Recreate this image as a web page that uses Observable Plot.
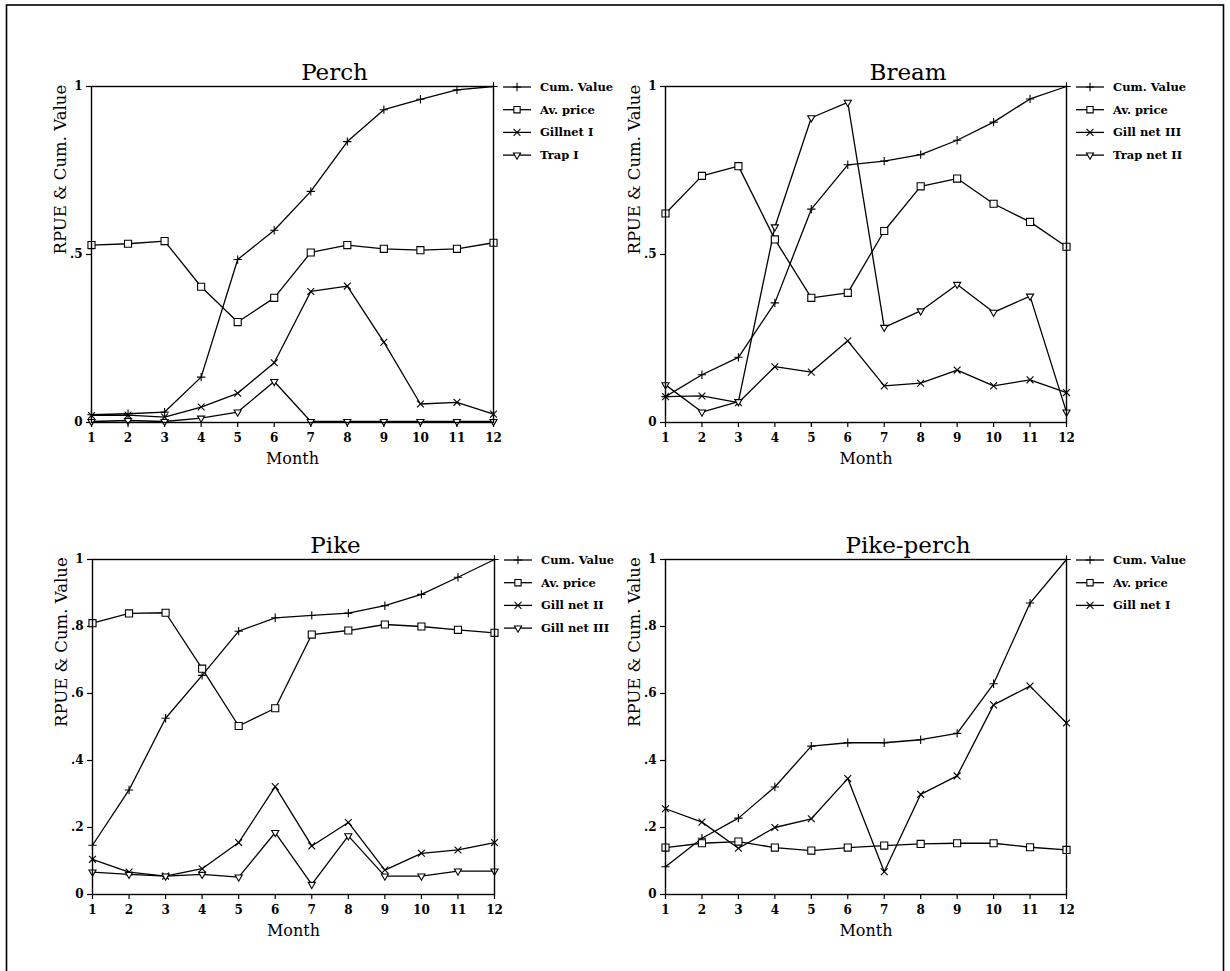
<!DOCTYPE html>
<html><head><meta charset="utf-8">
<script src="https://cdn.jsdelivr.net/npm/d3@7"></script>
<script src="https://cdn.jsdelivr.net/npm/@observablehq/plot@0.6"></script>
<style>
body{margin:0;background:#fff;}
#page{position:relative;width:1230px;height:971px;overflow:hidden;background:#fff;}
#page > svg{position:absolute;}
</style></head><body><div id="page"></div>
<script>
// ---------- data ----------
const months = [1,2,3,4,5,6,7,8,9,10,11,12];
const monthTicks = [1,2,3,4,5,6,7,8,9,10,11,12];
const yTicksTop = [0, 0.5, 1];
const yTicksBottom = [0, 0.2, 0.4, 0.6, 0.8, 1];

const titles = ["Perch", "Bream", "Pike", "Pike-perch"];
const xLabel = "Month";
const yLabel = "RPUE & Cum. Value";

const perchSeries = ["Cum. Value", "Av. price", "Gillnet I", "Trap I"];
const perchCum   = [0.023,0.026,0.031,0.135,0.485,0.572,0.688,0.836,0.931,0.962,0.990,1.000];
const perchPrice = [0.528,0.532,0.540,0.404,0.299,0.371,0.506,0.528,0.517,0.513,0.517,0.535];
const perchGill  = [0.021,0.022,0.016,0.046,0.087,0.178,0.390,0.406,0.239,0.055,0.060,0.025];
const perchTrap  = [0.003,0.006,0.003,0.013,0.031,0.122,0.003,0.003,0.003,0.003,0.003,0.003];

const breamSeries = ["Cum. Value", "Av. price", "Gill net III", "Trap net II"];
const breamCum   = [0.077,0.142,0.194,0.356,0.635,0.767,0.778,0.797,0.840,0.894,0.963,1.000];
const breamPrice = [0.622,0.734,0.763,0.545,0.371,0.386,0.570,0.703,0.726,0.651,0.597,0.523];
const breamGill  = [0.077,0.079,0.059,0.166,0.150,0.243,0.109,0.117,0.156,0.109,0.127,0.089];
const breamTrap  = [0.112,0.031,0.062,0.582,0.907,0.953,0.283,0.332,0.411,0.328,0.376,0.031];

const pikeSeries = ["Cum. Value", "Av. price", "Gill net II", "Gill net III"];
const pikeCum    = [0.147,0.312,0.526,0.654,0.786,0.826,0.833,0.840,0.862,0.896,0.947,1.000];
const pikePrice  = [0.810,0.839,0.841,0.674,0.503,0.556,0.776,0.788,0.806,0.800,0.790,0.781];
const pikeGill2  = [0.105,0.067,0.055,0.077,0.155,0.322,0.145,0.215,0.073,0.123,0.133,0.155];
const pikeGill3  = [0.067,0.060,0.055,0.060,0.052,0.185,0.030,0.175,0.055,0.055,0.070,0.070];

const pikeperchSeries = ["Cum. Value", "Av. price", "Gill net I"];
const pikeperchCum   = [0.083,0.168,0.228,0.321,0.443,0.453,0.453,0.462,0.481,0.629,0.870,1.000];
const pikeperchPrice = [0.140,0.153,0.158,0.140,0.131,0.140,0.146,0.151,0.153,0.153,0.141,0.133];
const pikeperchGill  = [0.256,0.216,0.138,0.200,0.226,0.346,0.068,0.299,0.354,0.566,0.622,0.512];

// ---------- styling / layout ----------
const FONT = "'DejaVu Serif', 'Liberation Serif', serif";
const downTriangle = {
  draw(context, size) {
    const s = Math.sqrt(size) * 0.6824, t = s / 2, u = s * Math.sqrt(3) / 2;
    context.moveTo(0, s); context.lineTo(u, -t); context.lineTo(-u, -t); context.closePath();
  }
};
const symbolStyles = [
  {symbol: "plus", r: 2.8, fill: "none"},
  {symbol: "square", r: 4.0, fill: "white"},
  {symbol: "times", r: 3.2, fill: "none"},
  {symbol: downTriangle, r: 3.4, fill: "white"}
];
const d3Symbols = [d3.symbolPlus, d3.symbolSquare2, d3.symbolTimes, downTriangle];

const panels = [
  {title: titles[0], names: perchSeries, values: [perchCum, perchPrice, perchGill, perchTrap], yTicks: yTicksTop, left: 0, top: 0, marginLeft: 91, plotW: 402, marginTop: 86, plotH: 336},
  {title: titles[1], names: breamSeries, values: [breamCum, breamPrice, breamGill, breamTrap], yTicks: yTicksTop, left: 574, top: 0, marginLeft: 91, plotW: 401, marginTop: 86, plotH: 336},
  {title: titles[2], names: pikeSeries, values: [pikeCum, pikePrice, pikeGill2, pikeGill3], yTicks: yTicksBottom, left: 0, top: 473, marginLeft: 92, plotW: 402, marginTop: 86, plotH: 335},
  {title: titles[3], names: pikeperchSeries, values: [pikeperchCum, pikeperchPrice, pikeperchGill], yTicks: yTicksBottom, left: 574, top: 473, marginLeft: 91, plotW: 401, marginTop: 86, plotH: 335}
];

const fmtY = d => d === 0 ? "0" : d === 1 ? "1" : d3.format(".1f")(d).replace(/^0/, "");
const page = document.getElementById("page");

for (const p of panels) {
  const rows = [];
  p.names.forEach((name, i) => months.forEach((m, j) => rows.push({series: name, idx: i, month: m, value: p.values[i][j]})));
  const W = 574, H = p.marginTop + p.plotH + 52;
  const chart = Plot.plot({
    width: W, height: H,
    marginLeft: p.marginLeft, marginRight: W - p.marginLeft - p.plotW,
    marginTop: p.marginTop, marginBottom: 52,
    style: {fontFamily: FONT, background: "transparent", color: "black", overflow: "visible"},
    x: {domain: [1, 12]},
    y: {domain: [0, 1]},
    marks: [
      Plot.axisX({ticks: monthTicks, tickSize: 5, tickPadding: 6, tickFormat: d => String(d), label: null, fontWeight: "bold", fontSize: 12, stroke: "black", strokeWidth: 1.2}),
      Plot.axisY({ticks: p.yTicks, tickSize: 5, tickPadding: 4, tickFormat: fmtY, label: null, fontWeight: "bold", fontSize: 12, stroke: "black", strokeWidth: 1.2}),
      Plot.line(rows, {x: "month", y: "value", z: "series", stroke: "black", strokeWidth: 1.3}),
      ...p.names.map((name, i) => Plot.dot(rows.filter(d => d.idx === i), {
        x: "month", y: "value", symbol: symbolStyles[i].symbol, r: symbolStyles[i].r,
        fill: symbolStyles[i].fill, stroke: "black", strokeWidth: 1.1
      })),
      Plot.frame({stroke: "black", strokeWidth: 1.4}),
      Plot.text([p.title], {text: d => d, frameAnchor: "top", lineAnchor: "bottom", dx: 42, dy: -7, fontSize: 23, fill: "black"}),
      Plot.text([xLabel], {text: d => d, frameAnchor: "bottom", lineAnchor: "bottom", dy: 41, fontSize: 16, fill: "black"}),
      Plot.text([yLabel], {text: d => d, frameAnchor: "left", rotate: -90, dx: -31, fontSize: 16.5, fill: "black"})
    ]
  });
  chart.style.left = p.left + "px";
  chart.style.top = p.top + "px";
  page.appendChild(chart);
}

// overlay: outer border + legends
const ov = d3.select(page).append("svg").attr("width", 1230).attr("height", 971)
  .style("left", "0px").style("top", "0px").attr("font-family", FONT);
ov.append("rect").attr("x", 6.5).attr("y", 5).attr("width", 1217).attr("height", 990)
  .attr("fill", "none").attr("stroke", "black").attr("stroke-width", 1.6);

for (const p of panels) {
  const x0 = p.left + p.marginLeft + p.plotW;
  const y0 = p.top + p.marginTop;
  p.names.forEach((name, i) => {
    const y = y0 + 1 + i * 22.7;
    const g = ov.append("g");
    g.append("line").attr("x1", x0 + 10).attr("x2", x0 + 38).attr("y1", y).attr("y2", y)
      .attr("stroke", "black").attr("stroke-width", 1.3);
    const r = symbolStyles[i].r;
    g.append("path").attr("transform", `translate(${x0 + 24},${y})`)
      .attr("d", d3.symbol(d3Symbols[i], r * r * Math.PI)())
      .attr("fill", symbolStyles[i].fill).attr("stroke", "black").attr("stroke-width", 1.1);
    g.append("text").attr("x", x0 + 47).attr("y", y).attr("dy", "0.35em")
      .attr("font-size", 11.5).attr("font-weight", "bold").text(name);
  });
}
</script>
</body></html>
